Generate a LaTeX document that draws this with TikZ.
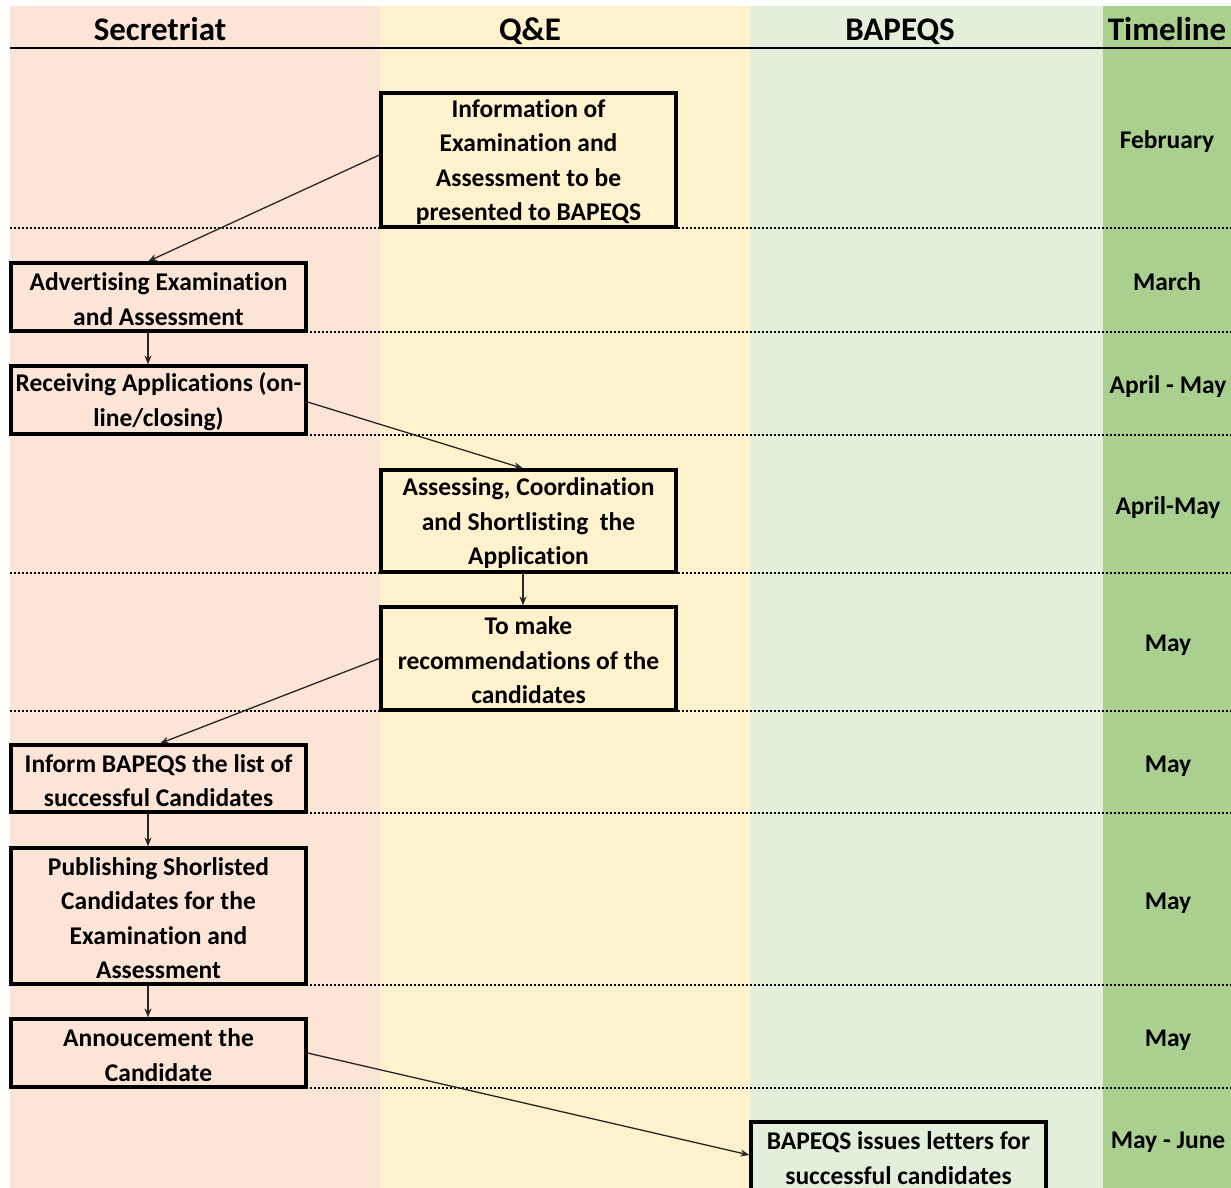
\documentclass[tikz,border=0pt]{standalone}
\usepackage{fontspec}
\setmainfont{Carlito}[Ligatures=CommonOff]
\usetikzlibrary{arrows.meta}
\definecolor{secr}{HTML}{FCE4D6}
\definecolor{qecol}{HTML}{FFF2CC}
\definecolor{bapcol}{HTML}{E2EFDA}
\definecolor{tlcol}{HTML}{A9D08E}
\newcommand\mytopstrut{\rule{0pt}{22pt}}
\begin{document}
\begin{tikzpicture}[x=1pt,y=-1pt,
  box/.style={draw=black, line width=3.2pt, inner sep=0pt, align=center,
    font=\bfseries\fontsize{25.5}{34.5}\selectfont, minimum width=295pt},
  flow/.style={-{Stealth[length=9pt,width=7pt]}, line width=1.3pt, draw=black!85},
  sepline/.style={line width=1.6pt, dash pattern=on 2pt off 2pt},
  hdr/.style={font=\bfseries\fontsize{33}{40}\selectfont, text height=22pt, text depth=7pt, inner sep=0pt},
  tl/.style={font=\bfseries\fontsize{25.5}{30}\selectfont, text height=18pt, text depth=6pt, inner sep=0pt}]
\clip (0,0) rectangle (1231,1188);
\fill[white] (0,0) rectangle (1231,1188);
\fill[secr] (10,6) rectangle (380,1188);
\fill[qecol] (380,6) rectangle (750,1188);
\fill[bapcol] (750,6) rectangle (1103,1188);
\fill[tlcol] (1103,6) rectangle (1231,1188);
% header
\node[hdr] (hsec) at (160,33) {Secretriat};
\node[hdr] (hqe) at (530,33) {Q\&E};
\node[hdr] (hbap) at (900,33) {BAPEQS};
\node[hdr] (htl) at (1167,33) {Timeline};
\draw[line width=2.5pt] (10,48) -- (1231,48);
% row separators
\foreach \yy in {228,332,435,573,711,813,985,1088}
  \draw[sepline] (10,\yy) -- (1231,\yy);
% timeline
\node[tl] (t1) at (1167,143) {February};
\node[tl] (t2) at (1167,284) {March};
\node[tl] (t3) at (1168,387) {April - May};
\node[tl] (t4) at (1168,508) {April-May};
\node[tl] (t5) at (1168,645) {May};
\node[tl] (t6) at (1168,766) {May};
\node[tl] (t7) at (1168,903) {May};
\node[tl] (t8) at (1168,1040) {May};
\node[tl] (t9) at (1168,1142) {May - June};
% boxes
\node[box, fill=qecol, minimum height=134pt] (info) at (528.5,160) {\mytopstrut Information of\\Examination and\\Assessment to be\\presented to BAPEQS};
\node[box, fill=secr, minimum height=68pt] (adv) at (158.5,297) {\mytopstrut Advertising Examination\\and Assessment};
\node[box, fill=secr, minimum height=68pt] (rec) at (158.5,400) {\mytopstrut Receiving Applications (on-\\line/closing)};
\node[box, fill=qecol, minimum height=102pt] (ass) at (528.5,521) {\mytopstrut Assessing, Coordination\\and Shortlisting\ \ the\\Application};
\node[box, fill=qecol, minimum height=103pt] (mk) at (528.5,658.5) {\mytopstrut To make\\recommendations of the\\candidates};
\node[box, fill=secr, minimum height=67pt] (inf) at (158.5,778.5) {\mytopstrut Inform BAPEQS the list of\\successful Candidates};
\node[box, fill=secr, minimum height=136pt] (pub) at (158.5,916) {\mytopstrut Publishing Shorlisted\\Candidates for the\\Examination and\\Assessment};
\node[box, fill=secr, minimum height=68pt] (ann) at (158.5,1053) {\mytopstrut Annoucement the\\Candidate};
\node[box, fill=bapcol, minimum height=72pt] (let) at (898.5,1158) {BAPEQS issues letters for\\successful candidates};
% connectors
\draw[flow] ([yshift=5pt]info.west) -- ([xshift=-10.5pt]adv.north);
\draw[flow] ([xshift=-10.5pt]adv.south) -- ([xshift=-10.5pt]rec.north);
\draw[flow] ([yshift=-2pt]rec.east) -- ([xshift=-5.5pt]ass.north);
\draw[flow] ([xshift=-5.5pt]ass.south) -- ([xshift=-5.5pt]mk.north);
\draw[flow] (mk.west) -- ([xshift=1.5pt]inf.north);
\draw[flow] ([xshift=-10.5pt]inf.south) -- ([xshift=-10.5pt]pub.north);
\draw[flow] ([xshift=-10.5pt]pub.south) -- ([xshift=-10.5pt]ann.north);
\draw[flow] (ann.east) -- ([yshift=3pt]let.west);
\end{tikzpicture}
\end{document}
